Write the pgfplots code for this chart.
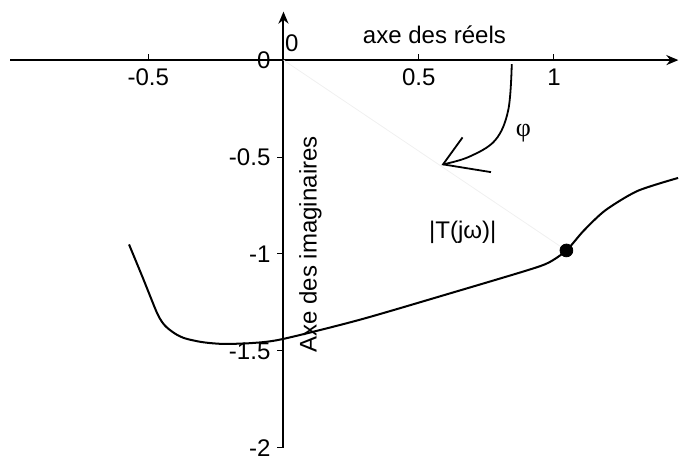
\documentclass[border=0pt]{standalone}
\usepackage{pgfplots}
\pgfplotsset{compat=1.18}
\usepackage{fontspec}
\setmainfont{Liberation Sans}
\newfontfamily\seriffont{Liberation Serif}
\usetikzlibrary{arrows.meta}

\begin{document}
\begin{tikzpicture}
\begin{axis}[
    x=135pt, y=96.75pt,
    axis lines=middle,
    axis line style={line width=1pt, -{Stealth[length=6pt,width=5pt]}},
    xmin=-1.01, xmax=1.46,
    ymin=-2, ymax=0.25,
    xtick={-0.5,0.5,1},
    ytick={0,-0.5,-1,-1.5,-2},
    xticklabels={-0.5,0.5,1},
    yticklabels={0,-0.5,-1,-1.5,-2},
    hide obscured y ticks=false,
    xtick align=inside,
    ytick align=outside,
    major tick length=3pt,
    tick style={black, line width=0.5pt},
    tick label style={font=\fontsize{12}{14}\selectfont},
    xticklabel style={yshift=-1pt},
    clip=false,
]
% invisible frame giving the picture the size of the reference
\path (axis cs:-1.048,0.31) rectangle (axis cs:1.466,-2.052);

% faint line from the origin to the point
\addplot[black!6, line width=0.4pt] coordinates {(0,0) (1.046,-0.982)};

% locus
\addplot[black, line width=1pt, smooth, tension=0.45] coordinates {
    (-0.571,-0.951) (-0.518,-1.130) (-0.466,-1.309) (-0.438,-1.370)
    (-0.400,-1.412) (-0.363,-1.436) (-0.300,-1.455) (-0.226,-1.464)
    (-0.120,-1.460) (-0.006,-1.440) (0.281,-1.340) (0.624,-1.200)
    (0.900,-1.085) (0.980,-1.045) (1.046,-0.982) (1.110,-0.880)
    (1.190,-0.775) (1.309,-0.675) (1.459,-0.608)
};
\addplot[only marks, mark=*, mark size=3.2pt, black] coordinates {(1.046,-0.982)};

% phase arrow
\addplot[black, line width=0.9pt, smooth, tension=0.6] coordinates {
    (0.844,-0.021) (0.831,-0.258) (0.783,-0.413) (0.686,-0.499) (0.590,-0.538)
};
\addplot[black, line width=0.9pt] coordinates {(0.662,-0.399) (0.590,-0.538) (0.767,-0.578)};

\node[font=\fontsize{12}{14}\selectfont] at (axis cs:0.558,0.129) {axe des réels};
\node[font=\fontsize{12}{14}\selectfont] at (axis cs:0.031,0.086) {0};
\node[font=\fontsize{13}{15}\selectfont\seriffont] at (axis cs:0.887,-0.379) {φ};
\node[font=\fontsize{12}{14}\selectfont] at (axis cs:0.663,-0.889) {|T(jω)|};
\node[font=\fontsize{12}{14}\selectfont, rotate=90] at (axis cs:0.100,-0.951) {Axe des imaginaires};
\end{axis}
\end{tikzpicture}
\end{document}
